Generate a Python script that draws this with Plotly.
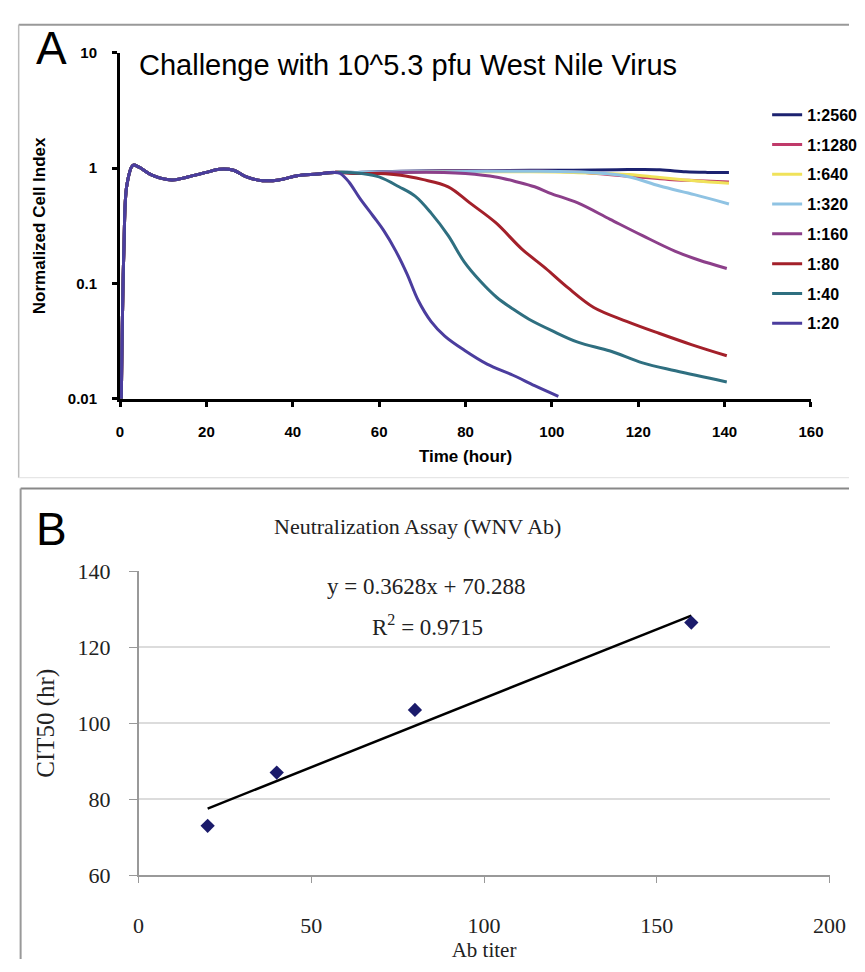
import plotly.graph_objects as go

W, H = 865, 972


def px(x):
    return x / W


def py(y):
    return 1 - y / H


# ---------------- Panel A data ----------------
series_names = ["1:2560", "1:1280", "1:640", "1:320", "1:160", "1:80", "1:40", "1:20"]
series_colors = ["#1c2270", "#c03a6a", "#f0e25a", "#8fc3e3", "#8c3f8a", "#a3202a", "#2f6f80", "#4b3d9e"]

# shared early part (all dilutions overlap up to ~50 h)
common_t = [0.3, 0.9, 1.6, 3.0, 4.4, 7.4, 12.0, 15.7, 20.0, 23.0, 26.3, 29.3, 33.0, 36.8, 41.0, 45.8, 49.6]
common_v = [0.01, 0.2, 0.72, 1.06, 1.02, 0.87, 0.79, 0.84, 0.92, 0.98, 0.96, 0.84, 0.78, 0.79, 0.86, 0.89, 0.92]

t_2560 = [55, 65, 75, 85, 95, 105, 115, 125, 131, 136, 141]
v_2560 = [0.92, 0.94, 0.95, 0.95, 0.96, 0.96, 0.97, 0.97, 0.93, 0.92, 0.92]
t_1280 = [55, 65, 75, 85, 95, 105, 113, 120, 127, 134, 141]
v_1280 = [0.91, 0.93, 0.94, 0.94, 0.94, 0.93, 0.88, 0.84, 0.80, 0.78, 0.76]
t_640 = [55, 65, 75, 85, 95, 105, 112, 118, 125, 133, 141]
v_640 = [0.91, 0.92, 0.93, 0.93, 0.93, 0.92, 0.90, 0.88, 0.83, 0.78, 0.74]
t_320 = [55, 65, 75, 85, 95, 105, 112, 118, 125, 133, 141]
v_320 = [0.92, 0.93, 0.93, 0.94, 0.94, 0.93, 0.90, 0.84, 0.70, 0.59, 0.49]
t_160 = [55, 65, 75, 80, 87, 92, 96, 100, 106, 113.5, 121, 128.6, 134, 140.5]
v_160 = [0.90, 0.92, 0.92, 0.90, 0.84, 0.76, 0.69, 0.60, 0.50, 0.36, 0.26, 0.19, 0.16, 0.135]
t_80 = [55, 60, 65, 70, 76, 81, 87, 93, 98.5, 103.7, 109.7, 117.3, 124.8, 132.3, 140.5]
v_80 = [0.90, 0.90, 0.87, 0.80, 0.69, 0.50, 0.337, 0.20, 0.136, 0.092, 0.062, 0.047, 0.037, 0.0295, 0.0236]
t_40 = [53, 56, 60, 64.6, 68.4, 72, 76, 79.7, 83.4, 87.2, 91, 94.7, 100, 106, 113.5, 121, 128.6, 140.5]
v_40 = [0.92, 0.90, 0.84, 0.69, 0.57, 0.41, 0.26, 0.154, 0.105, 0.076, 0.060, 0.049, 0.039, 0.031, 0.026, 0.0205, 0.0175, 0.014]
t_20 = [51, 53, 55.5, 58.6, 61, 63.9, 66.5, 69, 72, 75.2, 80, 85, 91, 96, 101.5]
v_20 = [0.90, 0.76, 0.55, 0.385, 0.29, 0.19, 0.12, 0.072, 0.047, 0.035, 0.026, 0.020, 0.016, 0.013, 0.0105]

tails_t = [t_2560, t_1280, t_640, t_320, t_160, t_80, t_40, t_20]
tails_v = [v_2560, v_1280, v_640, v_320, v_160, v_80, v_40, v_20]

y_ticks_A = [0.01, 0.1, 1, 10]
y_ticktext_A = ["0.01", "0.1", "1", "10"]

# ---------------- Panel B data ----------------
ab_titer = [20, 40, 80, 160]
cit50 = [73, 87, 103.5, 126.5]
slope, intercept = 0.3628, 70.288
r_squared = 0.9715

fig = go.Figure()

for name, col, tt, vv in zip(series_names, series_colors, tails_t, tails_v):
    fig.add_trace(go.Scatter(
        x=common_t + tt, y=common_v + vv, mode="lines", name=name,
        legendgroup=name,
        line=dict(color=col, width=3, shape="spline", smoothing=1.0),
        xaxis="x", yaxis="y",
    ))

fit_x = [min(ab_titer), max(ab_titer)]
fit_y = [slope * v + intercept for v in fit_x]
fig.add_trace(go.Scatter(
    x=fit_x, y=fit_y, mode="lines", showlegend=False,
    line=dict(color="black", width=2.5), xaxis="x2", yaxis="y2",
))
fig.add_trace(go.Scatter(
    x=ab_titer, y=cit50, mode="markers", showlegend=False,
    marker=dict(symbol="diamond", size=11, color="#1b1b6b"),
    xaxis="x2", yaxis="y2",
))

sans_bold = dict(family="Liberation Sans, Arial", size=15, color="black", weight="bold")
serif_tick = dict(family="Liberation Serif, Times New Roman", size=22, color="#222")
serif = dict(family="Liberation Serif, Times New Roman", size=22, color="#222")

fig.update_layout(
    width=W, height=H, margin=dict(l=0, r=0, t=0, b=0),
    paper_bgcolor="white", plot_bgcolor="white",
    showlegend=True,
    legend=dict(
        x=px(781), y=py(88), xanchor="left", yanchor="top",
        font=dict(family="Liberation Sans, Arial", size=16, color="black", weight="bold"),
        bgcolor="rgba(0,0,0,0)", tracegroupgap=6, itemwidth=30,
    ),
    xaxis=dict(
        domain=[px(117), px(826)], range=[0, 160], dtick=20,
        showline=True, linecolor="black", linewidth=3, showgrid=False, zeroline=False,
        ticks="outside", ticklen=5, tickwidth=3, tickcolor="black",
        tickfont=sans_bold, ticklabelstandoff=12, anchor="y",
        title=dict(text="Time (hour)", font=dict(family="Liberation Sans, Arial", size=17, color="black", weight="bold"), standoff=12),
    ),
    yaxis=dict(
        domain=[py(397), py(42)], type="log", range=[-2, 1],
        tickvals=y_ticks_A, ticktext=y_ticktext_A,
        showline=True, linecolor="black", linewidth=3, showgrid=False, zeroline=False,
        ticks="outside", ticklen=5, tickwidth=3, tickcolor="black",
        tickfont=sans_bold, ticklabelstandoff=12, anchor="x",
        title=dict(text="Normalized Cell Index", font=dict(family="Liberation Sans, Arial", size=17, color="black", weight="bold"), standoff=18),
    ),
    xaxis2=dict(
        domain=[px(136), px(845)], range=[0, 200], dtick=50,
        showline=True, linecolor="#999", linewidth=1.5, showgrid=False, zeroline=False,
        ticks="outside", ticklen=6, tickwidth=1, tickcolor="#999",
        tickfont=serif_tick, ticklabelstandoff=24, anchor="y2",
        title=dict(text="Ab titer", font=dict(family="Liberation Serif, Times New Roman", size=21, color="#222"), standoff=0),
    ),
    yaxis2=dict(
        domain=[py(886), py(574)], range=[60, 140], dtick=20,
        showline=True, linecolor="#999", linewidth=1.5, showgrid=True, gridcolor="#dcdcdc", gridwidth=1.5,
        zeroline=False, ticks="outside", ticklen=8, tickwidth=1, tickcolor="#999",
        tickfont=serif_tick, ticklabelstandoff=14, anchor="x2",
        title=dict(text="CIT50 (hr)", font=dict(family="Liberation Serif, Times New Roman", size=25, color="#222"), standoff=16),
    ),
)

annotations = [
    dict(text="A", x=px(47), y=py(37), font=dict(family="Liberation Sans, Arial", size=46, color="black")),
    dict(text="Challenge with 10^5.3 pfu West Nile Virus", x=px(134), y=py(54), xanchor="left",
         font=dict(family="Liberation Sans, Arial", size=29, color="black")),
    dict(text="B", x=px(47), y=py(531), font=dict(family="Liberation Sans, Arial", size=46, color="black")),
    dict(text="Neutralization Assay (WNV Ab)", x=px(422), y=py(528), font=serif),
    dict(text=f"y = {slope}x + {intercept}", x=px(431), y=py(590), font=dict(serif, size=23)),
    dict(text=f"R<sup>2</sup> = {r_squared}", x=px(433), y=py(630), font=dict(serif, size=23)),
]
for a in annotations:
    a.update(xref="paper", yref="paper", showarrow=False)
    a.setdefault("xanchor", "center")
    a.setdefault("yanchor", "middle")
fig.update_layout(annotations=annotations)

shapes = [
    dict(x0=px(13), x1=px(865), y0=py(13), y1=py(13), line=dict(color="#999", width=2)),
    dict(x0=px(13), x1=px(13), y0=py(13), y1=py(478), line=dict(color="#bbb", width=1.5)),
    dict(x0=px(13), x1=px(865), y0=py(478), y1=py(478), line=dict(color="#e0e0e0", width=1)),
    dict(x0=px(15), x1=px(865), y0=py(489), y1=py(489), line=dict(color="#888", width=2)),
    dict(x0=px(15), x1=px(15), y0=py(489), y1=py(972), line=dict(color="#999", width=2)),
]
for s in shapes:
    s.update(type="line", xref="paper", yref="paper")
fig.update_layout(shapes=shapes)

fig.write_html("out.html")
